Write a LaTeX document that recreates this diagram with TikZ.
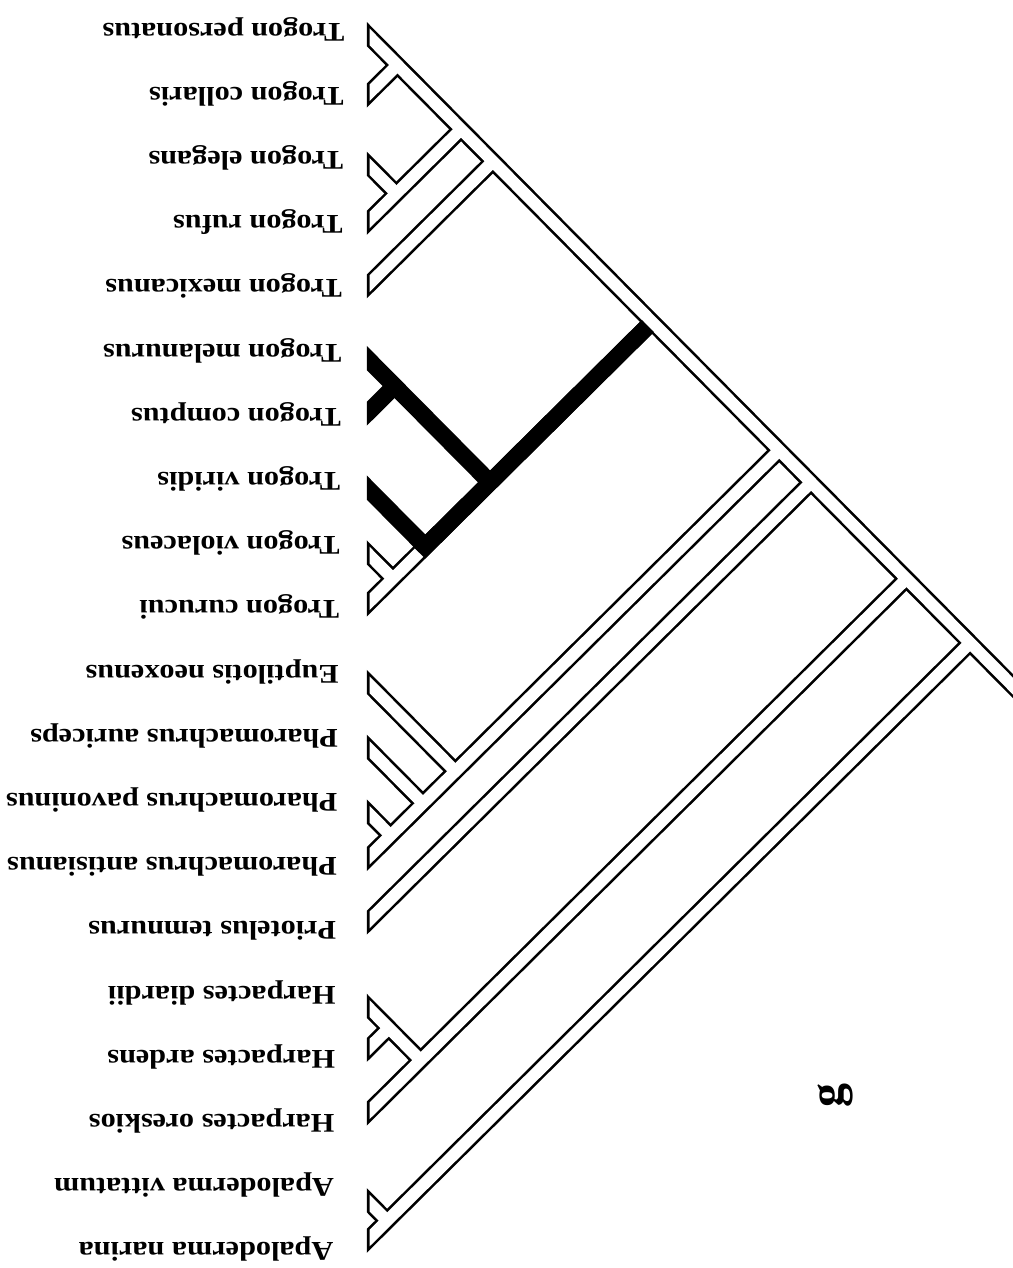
\documentclass[tikz,border=0pt]{standalone}
\usepackage{fontspec}
\setmainfont{Liberation Serif}
\begin{document}
\begin{tikzpicture}[x=0.5pt,y=-0.5pt,
  outer/.style={line width=8.5pt,black},
  inner/.style={line width=5.9pt,white},
  solid/.style={line width=8.5pt,black},
  lab/.style={rotate=180,anchor=west,inner sep=0pt,xscale=1.12,text height=1.6ex,text depth=0.3ex,font=\fontsize{13.5}{16}\selectfont\bfseries},
  panel/.style={rotate=90,inner sep=0pt,font=\fontsize{24}{28}\selectfont\bfseries}]
\useasboundingbox (0,0) rectangle (1012,1268);
\fill[white] (0,0) rectangle (1012,1268);
\begin{scope}[y={(-0.0045pt,-0.5pt)}]
% tip starts
\coordinate (s1) at (346,13);
\coordinate (s2) at (346,117.2);
\coordinate (s3) at (346,141.4);
\coordinate (s4) at (346,245.6);
\coordinate (s5) at (346,309.8);
\coordinate (s6) at (346,334);
\coordinate (s7) at (346,438.2);
\coordinate (s8) at (346,462.4);
\coordinate (s9) at (346,526.6);
\coordinate (s10) at (346,630.8);
\coordinate (s11) at (346,655);
\coordinate (s12) at (346,719.2);
\coordinate (s13) at (346,783.4);
\coordinate (s14) at (346,887.6);
\coordinate (s15) at (346,951.8);
\coordinate (s16) at (346,976);
\coordinate (s17) at (346,1080.2);
\coordinate (s18) at (346,1144.4);
\coordinate (s19) at (346,1168.6);
\coordinate (s20) at (346,1272.8);
% internal nodes
\coordinate (npc) at (398.1,65.1);
\coordinate (ner) at (398.1,193.5);
\coordinate (npcer) at (462.3,129.3);
\coordinate (n15) at (494.4,161.4);
\coordinate (nmc) at (398.1,386.1);
\coordinate (nvc) at (398.1,578.7);
\coordinate (n810) at (430.2,546.6);
\coordinate (n610) at (494.4,482.4);
\coordinate (n110) at (654.9,321.9);
\coordinate (npa) at (398.1,835.5);
\coordinate (n1214) at (430.2,803.4);
\coordinate (n1114) at (462.3,771.3);
\coordinate (n114) at (783.3,450.3);
\coordinate (n115) at (815.4,482.4);
\coordinate (nda) at (398.1,1028.1);
\coordinate (n1618) at (430.2,1060.2);
\coordinate (n118) at (911.7,578.7);
\coordinate (nvn) at (398.1,1220.7);
\coordinate (root) at (975.9,642.9);
\coordinate (rend) at (1060,727);
\coordinate (bsA) at (424.2,552.6);
\coordinate (bsB) at (650.8,326.0);
% outline layer
\begin{scope}
\clip (366,-100) rectangle (1200,1400);
\foreach \a/\b in {s1/rend,s2/npc,s3/ner,s4/npcer,s5/n15,s10/n110,s9/nvc,
  s14/n114,s11/n1114,s12/n1214,s13/npa,s15/n115,s18/n118,s16/n1618,s17/nda,
  s20/root,s19/nvn}
  \draw[outer] (\a) -- (\b);
\end{scope}
% inner white layer
\begin{scope}
\clip (368.7,-100) rectangle (1200,1400);
\foreach \a/\b in {s1/rend,s2/npc,s3/ner,s4/npcer,s5/n15,s10/n110,s9/nvc,
  s14/n114,s11/n1114,s12/n1214,s13/npa,s15/n115,s18/n118,s16/n1618,s17/nda,
  s20/root,s19/nvn}
  \draw[inner] (\a) -- (\b);
\end{scope}
% highlighted clade
\begin{scope}
\clip (366,-100) rectangle (1200,1400);
\draw[solid] (s6) -- (n610);
\draw[solid] (s7) -- (nmc);
\draw[solid] (s8) -- (n810);
\draw[solid] (bsA) -- (bsB);
\end{scope}
% labels
\node[lab] (l1) at (345,29) {Trogon personatus};
\node[lab] (l2) at (345,93.2) {Trogon collaris};
\node[lab] (l3) at (345,157.4) {Trogon elegans};
\node[lab] (l4) at (345,221.6) {Trogon rufus};
\node[lab] (l5) at (345,285.8) {Trogon mexicanus};
\node[lab] (l6) at (345,350) {Trogon melanurus};
\node[lab] (l7) at (345,414.2) {Trogon comptus};
\node[lab] (l8) at (345,478.4) {Trogon viridis};
\node[lab] (l9) at (345,542.6) {Trogon violaceus};
\node[lab] (l10) at (345,606.8) {Trogon curucui};
\node[lab] (l11) at (345,671) {Euptilotis neoxenus};
\node[lab] (l12) at (345,735.2) {Pharomachrus auriceps};
\node[lab] (l13) at (345,799.4) {Pharomachrus pavoninus};
\node[lab] (l14) at (345,863.6) {Pharomachrus antisianus};
\node[lab] (l15) at (345,927.8) {Priotelus temnurus};
\node[lab] (l16) at (345,992) {Harpactes diardii};
\node[lab] (l17) at (345,1056.2) {Harpactes ardens};
\node[lab] (l18) at (345,1120.4) {Harpactes oreskios};
\node[lab] (l19) at (345,1184.6) {Apaloderma vittatum};
\node[lab] (l20) at (345,1248.8) {Apaloderma narina};
\node[panel] (pg) at (845,1095) {g};
\end{scope}
\end{tikzpicture}
\end{document}
